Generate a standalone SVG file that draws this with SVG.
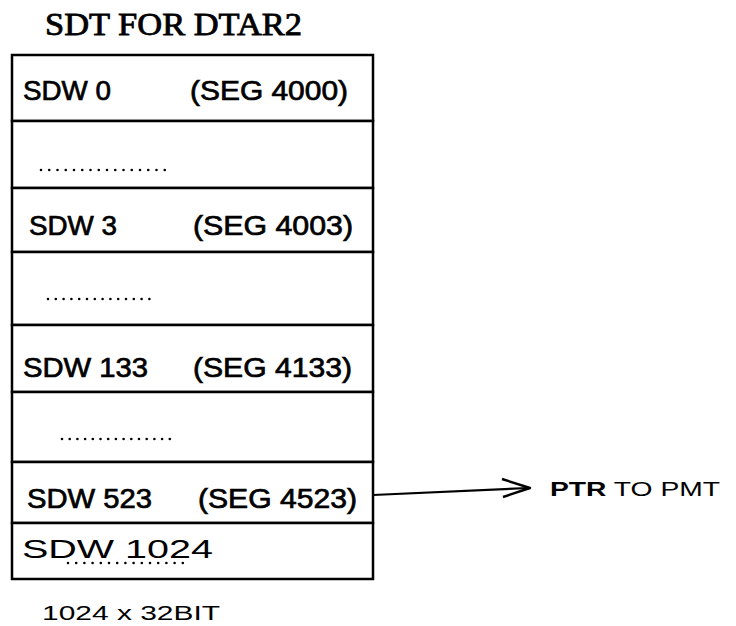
<svg xmlns="http://www.w3.org/2000/svg" width="736" height="626" viewBox="0 0 736 626">
<style>
.row{fill:#fff;stroke:#000;stroke-width:2.5}
.t{font-family:"Liberation Sans",Arial,sans-serif;font-size:27px;fill:#000;stroke:#000;stroke-width:0.7}
.hand{font-family:"Liberation Sans",Arial,sans-serif;fill:#000}
.dots{stroke:#000;stroke-width:2.6;stroke-linecap:round;fill:none}
.title{font-family:"Liberation Serif","Times New Roman",serif;font-size:31px;fill:#000;stroke:#000;stroke-width:0.8}
</style>
<rect width="736" height="626" fill="#fff"/>
<g id="title"><text class="title" x="45" y="35" textLength="257" lengthAdjust="spacingAndGlyphs">SDT FOR DTAR2</text></g>
<g id="sdw0"><rect class="row" x="12" y="55" width="361" height="66"/><text class="t" x="23" y="100" textLength="88" lengthAdjust="spacingAndGlyphs">SDW 0</text><text class="t" x="190" y="100" textLength="158" lengthAdjust="spacingAndGlyphs">(SEG 4000)</text></g>
<g id="gap1"><rect class="row" x="12" y="121" width="361" height="67"/><line class="dots" x1="41" y1="170" x2="173" y2="170" stroke-dasharray="0 8.25"/></g>
<g id="sdw3"><rect class="row" x="12" y="188" width="361" height="64"/><text class="t" x="29" y="235" textLength="88" lengthAdjust="spacingAndGlyphs">SDW 3</text><text class="t" x="193" y="235" textLength="160" lengthAdjust="spacingAndGlyphs">(SEG 4003)</text></g>
<g id="gap2"><rect class="row" x="12" y="252" width="361" height="73"/><line class="dots" x1="48" y1="299" x2="157" y2="299" stroke-dasharray="0 7.8"/></g>
<g id="sdw133"><rect class="row" x="12" y="325" width="361" height="67"/><text class="t" x="23" y="377" textLength="125" lengthAdjust="spacingAndGlyphs">SDW 133</text><text class="t" x="193" y="377" textLength="159" lengthAdjust="spacingAndGlyphs">(SEG 4133)</text></g>
<g id="gap3"><rect class="row" x="12" y="392" width="361" height="70"/><line class="dots" x1="62" y1="439" x2="170" y2="439" stroke-dasharray="0 7.7"/></g>
<g id="sdw523"><rect class="row" x="12" y="462" width="361" height="61"/><text class="t" x="27" y="508" textLength="125" lengthAdjust="spacingAndGlyphs">SDW 523</text><text class="t" x="198" y="508" textLength="159" lengthAdjust="spacingAndGlyphs">(SEG 4523)</text></g>
<g id="sdw1024"><rect class="row" x="12" y="523" width="361" height="56"/><line class="dots" x1="68" y1="563" x2="183" y2="563" stroke-dasharray="0 8.2"/><text class="hand" x="22" y="558" font-size="25" textLength="191" lengthAdjust="spacingAndGlyphs">SDW 1024</text></g>
<g id="connectors"><path d="M373 495 L528 488" stroke="#000" stroke-width="2.2" fill="none"/><path d="M502 479 L530 488 L503 497" stroke="#000" stroke-width="2.4" fill="none" stroke-linejoin="round"/></g>
<g id="pmt"><text class="hand" x="550" y="496" font-size="21" textLength="170" lengthAdjust="spacingAndGlyphs"><tspan font-weight="bold">PTR</tspan><tspan> TO PMT</tspan></text></g>
<g id="size"><text class="hand" x="42" y="620" font-size="20" textLength="178" lengthAdjust="spacingAndGlyphs">1024 x 32BIT</text></g>
</svg>
